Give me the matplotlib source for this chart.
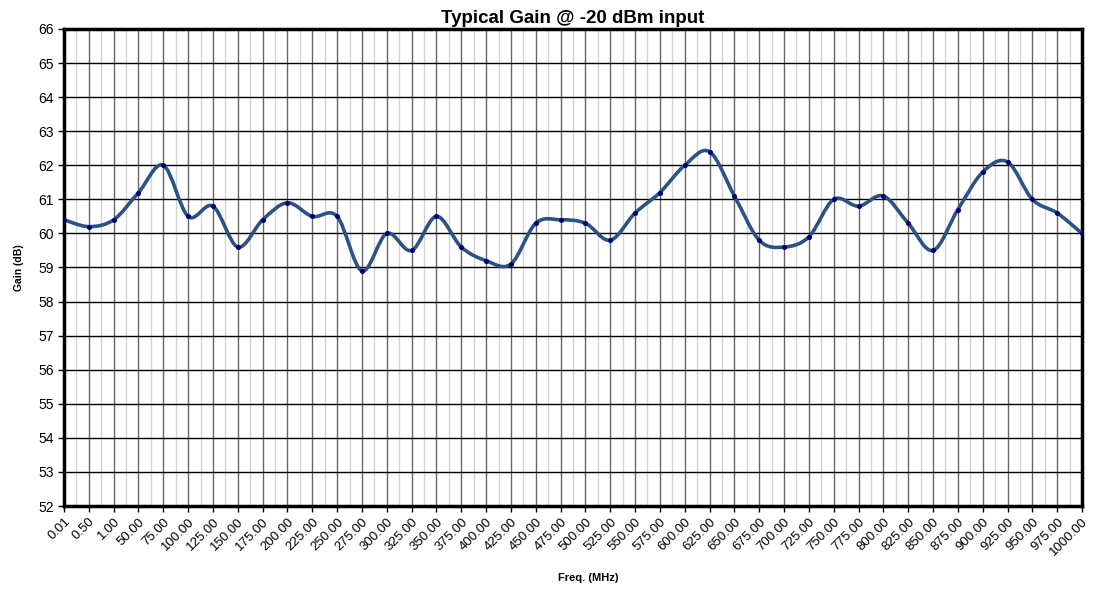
import matplotlib
matplotlib.use("Agg")
import matplotlib.pyplot as plt
import numpy as np
from matplotlib.path import Path
from matplotlib.patches import PathPatch
from matplotlib.ticker import MultipleLocator

plt.rcParams['font.family'] = ['Liberation Sans', 'DejaVu Sans']

freq_labels = ['0.01', '0.50', '1.00'] + ['%.2f' % f for f in range(50, 1001, 25)]
gain = [60.4, 60.2, 60.4, 61.2, 62.0, 60.5, 60.8, 59.6, 60.4, 60.9,
        60.5, 60.5, 58.9, 60.0, 59.5, 60.5, 59.6, 59.2, 59.1, 60.3,
        60.4, 60.3, 59.8, 60.6, 61.2, 62.0, 62.4, 61.1, 59.8, 59.6,
        59.9, 61.0, 60.8, 61.1, 60.3, 59.5, 60.7, 61.8, 62.1, 61.0,
        60.6, 60.0]


def smooth_path(x, y, t=1 / 6.0):
    # spreadsheet style smoothed line: cubic bezier through every point
    x = np.asarray(x, float)
    y = np.asarray(y, float)
    verts = [(x[0], y[0])]
    codes = [Path.MOVETO]
    n = len(x)
    for i in range(n - 1):
        p0 = i - 1 if i > 0 else 0
        p3 = i + 2 if i + 2 < n else n - 1
        c1 = (x[i] + (x[i + 1] - x[p0]) * t, y[i] + (y[i + 1] - y[p0]) * t)
        c2 = (x[i + 1] - (x[p3] - x[i]) * t, y[i + 1] - (y[p3] - y[i]) * t)
        verts += [c1, c2, (x[i + 1], y[i + 1])]
        codes += [Path.CURVE4] * 3
    return Path(verts, codes)


xs = np.arange(len(freq_labels))

fig = plt.figure(figsize=(11.01, 5.92), dpi=100)
ax = fig.add_axes([64 / 1101, 1 - 506 / 592, (1082 - 64) / 1101, (506 - 29) / 592])

ax.set_xlim(0, len(freq_labels) - 1)
ax.set_ylim(52, 66)
ax.yaxis.set_major_locator(MultipleLocator(1))
ax.set_xticks(xs)
ax.set_xticks(xs[:-1] + 0.5, minor=True)
ax.set_xticklabels(freq_labels, rotation=45, ha='right', rotation_mode='anchor', fontsize=9.5)
ax.tick_params(axis='y', labelsize=10, length=4, width=1)
ax.tick_params(axis='x', which='major', length=4, width=1, pad=3)
ax.tick_params(axis='x', which='minor', length=0)

ax.grid(axis='y', color='black', lw=1)
ax.grid(axis='x', which='major', color='#666666', lw=1)
ax.grid(axis='x', which='minor', color='#d4d4d4', lw=1)
ax.set_axisbelow(True)

for s in ax.spines.values():
    s.set_linewidth(2.5)
    s.set_color('black')

ax.add_patch(PathPatch(smooth_path(xs, gain), fill=False, edgecolor='#2c5282',
                       lw=2.6, zorder=3, capstyle='round', joinstyle='round'))
ax.plot(xs, gain, ls='none', marker='o', ms=2.6, color='#00007a', zorder=4)

ax.set_title('Typical Gain @ -20 dBm input', fontsize=13.5, fontweight='bold', pad=4)
ax.set_ylabel('Gain (dB)', fontsize=7.5, fontweight='bold', labelpad=10)
fig.text(588 / 1101, 1 - 578 / 592, 'Freq. (MHz)', fontsize=8, fontweight='bold',
         ha='center', va='center')

fig.savefig('out.png', dpi=100)
